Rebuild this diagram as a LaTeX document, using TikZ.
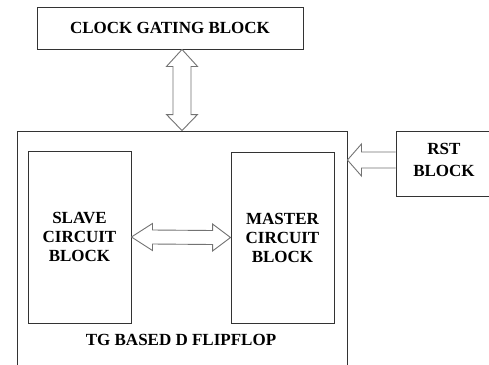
\documentclass[tikz,border=0pt]{standalone}
\usepackage{fontspec}
\setmainfont{Liberation Serif}
\usetikzlibrary{calc}
\tikzset{
  box/.style={draw=black!80, line width=0.9pt, rectangle, inner sep=0pt, align=center,
    font=\fontsize{17}{19}\selectfont\bfseries},
  fatarrow/.style={draw=black!55, fill=white, line width=0.9pt, line join=miter},
  lbl/.style={font=\fontsize{17}{19}\selectfont\bfseries, inner sep=0pt}
}
\begin{document}
\begin{tikzpicture}[x=1pt,y=1pt]
\clip (0,0) rectangle (489,-364);
\fill[white] (0,0) rectangle (489,-364);
% blocks
\node[box, minimum width=266, minimum height=42] (clk) at (170,-28) {CLOCK GATING BLOCK};
\node[box, minimum width=330, minimum height=236] (ff) at (182,-249) {};
\node[box, minimum width=103, minimum height=172] (slave) at (79.5,-237) {SLAVE\\CIRCUIT\\BLOCK};
\node[box, minimum width=103, minimum height=171] (master) at (282.5,-237.5) {MASTER\\CIRCUIT\\BLOCK};
\node[box, minimum width=96, minimum height=65, text height=26, font=\fontsize{17}{22}\selectfont\bfseries] (rst) at (444,-163.5) {RST\\BLOCK};
\node[lbl] (fflbl) at (181,-340) {TG BASED D FLIPFLOP};
% clock <-> flipflop
\coordinate (v1) at ($(clk.south)+(12,0)$);
\coordinate (v2) at (v1 |- ff.north);
\draw[fatarrow] (v1) -- ++(15.5,-17) -- ++(-6.5,0) -- ($(v2)+(9,16)$) -- ++(6.5,0) -- (v2)
  -- ++(-15.5,16) -- ++(6.5,0) -- ($(v1)+(-9,-17)$) -- ++(-6.5,0) -- cycle;
% slave <-> master
\coordinate (h1) at (slave.east);
\coordinate (h2) at (master.west);
\draw[fatarrow] (h1) -- ++(21,13.5) -- ++(0,-6.5) -- ($(h2)+(-18,7)$) -- ++(0,6.5) -- (h2)
  -- ++(-18,-13.5) -- ++(0,6.5) -- ($(h1)+(21,-7)$) -- ++(0,-6.5) -- cycle;
% rst -> flipflop
\coordinate (r1) at ($(rst.west)+(0,3.5)$);
\coordinate (r2) at (ff.east |- r1);
\draw[fatarrow] (r1) ++(0,8) -- ($(r2)+(14,8)$) -- ++(0,8) -- (r2) -- ++(14,-16) -- ++(0,8) -- ($(r1)+(0,-8)$);
\end{tikzpicture}
\end{document}
